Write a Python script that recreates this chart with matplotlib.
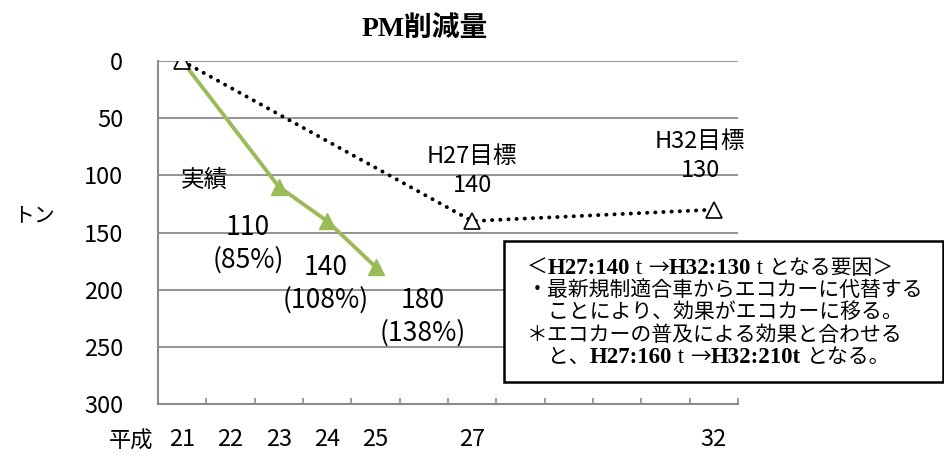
import matplotlib
matplotlib.use("Agg")
import matplotlib.pyplot as plt
from matplotlib.patches import Rectangle
from matplotlib.ticker import FixedLocator

plt.rcParams['font.family'] = ['Noto Sans CJK JP', 'DejaVu Sans']

# 平成 years on the category axis
years = [21, 22, 23, 24, 25, 26, 27, 28, 29, 30, 31, 32]
shown_years = [21, 22, 23, 24, 25, 27, 32]

# 実績 (actual reduction, t)
actual_years = [21, 23, 24, 25]
actual = [0, 110, 140, 180]

# 目標 (target reduction, t)
target_years = [21, 27, 32]
target = [0, 140, 130]
final_target = 130

GREEN = '#9bbb59'
GRID = '#8a8a8a'

W, H = 944, 457
fig = plt.figure(figsize=(W / 100, H / 100), dpi=100)
ax = fig.add_axes([158 / W, 1 - 404 / H, 580 / W, 343 / H])


def px(x, y):
    return x / W, 1 - y / H


ax.plot([y - 21 for y in actual_years], actual, color=GREEN, lw=2.8,
        marker='^', ms=11, markevery=[1, 2, 3], mfc=GREEN, mec=GREEN, zorder=3)
ax.plot([y - 21 for y in target_years], target, color='black', lw=2.8,
        linestyle=(0, (0.05, 2.05)), dash_capstyle='round',
        marker='^', ms=11, mfc='white', mec='black', mew=1.2, zorder=4)

ax.set_xlim(-0.5, len(years) - 0.5)
ax.set_ylim(300, 0)
ax.set_yticks(range(0, 301, 50))
ax.yaxis.grid(True, color=GRID, lw=1.3)
ax.set_axisbelow(True)
ax.tick_params(axis='y', length=0, pad=25, labelsize=17)

ax.set_xticks([y - 21 for y in shown_years])
ax.set_xticklabels([str(y) for y in shown_years])
ax.xaxis.set_minor_locator(FixedLocator([i - 0.5 for i in range(len(years) + 1)]))
ax.tick_params(axis='x', which='major', length=0, pad=17, labelsize=17)
ax.tick_params(axis='x', which='minor', direction='in', length=4.5,
               width=1.2, color=GRID)

for side in ['top', 'right']:
    ax.spines[side].set_visible(False)
for side in ['left', 'bottom']:
    ax.spines[side].set_color(GRID)
    ax.spines[side].set_linewidth(1.5)

# value labels for 実績 with share of the final target
label_pos = [(1.36, 160), (2.96, 195), (4.97, 224)]
for (lx, ly), v in zip(label_pos, actual[1:]):
    ax.text(lx, ly, f"{v}\n({v / final_target:.0%})", ha='center',
            va='center', fontsize=19, linespacing=1.25)
ax.text(0.47, 104, '実績', ha='center', va='center', fontsize=17)

target_label_pos = [(6.0, 96), (10.72, 83)]
for (lx, ly), yr, v in zip(target_label_pos, target_years[1:], target[1:]):
    ax.text(lx, ly, f"H{yr}目標\n{v}", ha='center', va='center',
            fontsize=17, linespacing=1.35)

fig.text(*px(425, 30), 'PM削減量', ha='center', va='center', fontsize=20,
         fontweight='bold', family=['Liberation Serif', 'Noto Sans CJK JP'])
fig.text(*px(34, 215), 'トン', ha='center', va='center', fontsize=15)
fig.text(*px(131, 441), '平成', ha='center', va='center', fontsize=16)

# explanation box
fig.patches.append(Rectangle(px(504, 382), 439 / W, 141 / H,
                             transform=fig.transFigure, facecolor='white',
                             edgecolor='black', lw=1.8, zorder=5))

SERIF = ['Liberation Serif', 'Noto Sans CJK JP']
CJK = ['Noto Sans CJK JP', 'DejaVu Sans']
box_lines = [
    (527, 274, [('＜', 'normal', CJK), ('H27:140', 'bold', SERIF),
                (' t ', 'normal', SERIF), ('→', 'normal', CJK),
                ('H32:130', 'bold', SERIF), (' t ', 'normal', SERIF),
                ('となる要因＞', 'normal', CJK)]),
    (527, 296, [('・最新規制適合車からエコカーに代替する', 'normal', CJK)]),
    (527, 318, [('　ことにより、効果がエコカーに移る。', 'normal', CJK)]),
    (527, 341, [('＊エコカーの普及による効果と合わせる', 'normal', CJK)]),
    (527, 363, [('　と、', 'normal', CJK), ('H27:160', 'bold', SERIF),
                (' t ', 'normal', SERIF), ('→', 'normal', CJK),
                ('H32:210t', 'bold', SERIF), (' ', 'normal', SERIF),
                ('となる。', 'normal', CJK)]),
]
renderer = fig.canvas.get_renderer()
for x0, y0, pieces in box_lines:
    x = x0
    for s, w, fam in pieces:
        size = 16.5 if fam is SERIF else 15
        t = fig.text(*px(x, y0), s, fontsize=size, fontweight=w, family=fam,
                     ha='left', va='baseline', zorder=6)
        x += t.get_window_extent(renderer).width

fig.savefig('out.png', dpi=100)
